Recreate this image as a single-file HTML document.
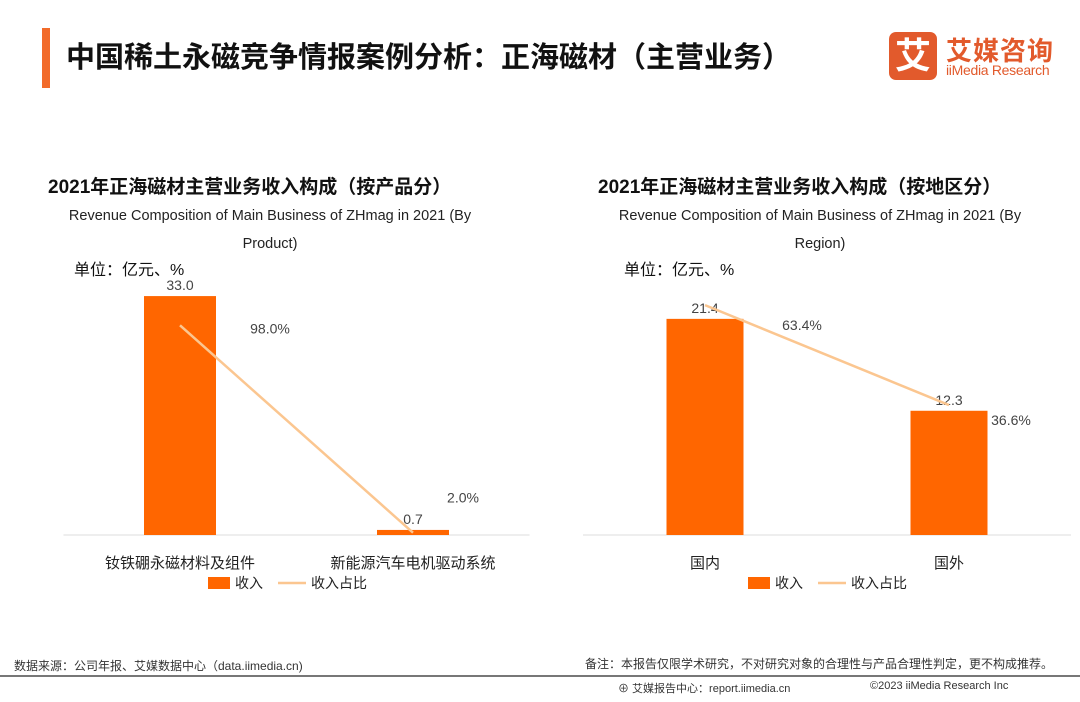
<!DOCTYPE html>
<html><head><meta charset="utf-8"><style>
body{margin:0;width:1080px;height:702px;background:#fff;overflow:hidden;font-family:"Liberation Sans","Noto Sans CJK SC",sans-serif;position:relative}
.a{position:absolute;white-space:nowrap}
</style></head><body>
<div class="a" style="left:42px;top:28px;width:8px;height:60px;background:#f26b2a"></div>
<div class="a" style="left:66px;top:34px;font-size:29px;font-weight:bold;color:#111">中国稀土永磁竞争情报案例分析：正海磁材（主营业务）</div>
<div class="a" style="left:889px;top:32px;width:48px;height:48px;background:#e25a2c;border-radius:7px;color:#fff;font-size:36px;font-weight:bold;text-align:center;line-height:48px">艾</div>
<div class="a" style="left:946px;top:31px;font-size:26px;font-weight:bold;color:#e25a2c;letter-spacing:1px">艾媒咨询</div>
<div class="a" style="left:946px;top:62px;font-size:14px;color:#e25a2c;letter-spacing:-0.3px">iiMedia Research</div>
<svg class="a" style="left:0;top:0" width="1080" height="702">
<g id="c1"></g><g id="c2"></g>
<line x1="0" y1="676" x2="1080" y2="676" stroke="#777" stroke-width="2"/>
</svg>
<div class="a" style="left:48px;top:172px;font-size:19px;font-weight:bold;color:#111">2021年正海磁材主营业务收入构成（按产品分）</div>
<div class="a" style="left:40px;top:202px;width:460px;text-align:center;font-size:14.5px;line-height:28px;color:#222">Revenue Composition of Main Business of ZHmag in 2021 (By<br>Product)</div>
<div class="a" style="left:74px;top:256px;font-size:16px;color:#111">单位：亿元、%</div>
<div class="a" style="left:598px;top:172px;font-size:19px;font-weight:bold;color:#111">2021年正海磁材主营业务收入构成（按地区分）</div>
<div class="a" style="left:590px;top:202px;width:460px;text-align:center;font-size:14.5px;line-height:28px;color:#222">Revenue Composition of Main Business of ZHmag in 2021 (By<br>Region)</div>
<div class="a" style="left:624px;top:256px;font-size:16px;color:#111">单位：亿元、%</div>
<div class="a" style="left:14px;top:657px;font-size:12px;color:#333">数据来源：公司年报、艾媒数据中心（data.iimedia.cn)</div>
<div class="a" style="left:585px;top:655px;font-size:12px;color:#333">备注：本报告仅限学术研究，不对研究对象的合理性与产品合理性判定，更不构成推荐。</div>
<div class="a" style="left:618px;top:680px;font-size:11px;color:#333">⊕ 艾媒报告中心：report.iimedia.cn</div>
<div class="a" style="left:870px;top:680px;font-size:11px;color:#333">©2023  iiMedia Research  Inc</div>
<script>
const cats1=["钕铁硼永磁材料及组件","新能源汽车电机驱动系统"];
const rev1=[33.0,0.7];
const pct1=[98.0,2.0];
const cats2=["国内","国外"];
const rev2=[21.4,12.3];
const pct2=[63.4,36.6];
const NS="http://www.w3.org/2000/svg";
function mk(p,t,a){const e=document.createElementNS(NS,t);for(const k in a)e.setAttribute(k,a[k]);p.appendChild(e);return e;}
function chart(id,cats,rev,pct,o){
  const g=document.getElementById(id);
  const yB=v=>o.base-v*o.k, yP=v=>o.pbase-v*o.pk;
  const cx=i=>o.x0+i*o.step;
  const ax=mk(g,'line',{x1:o.x0-o.step/2,x2:o.x0+1.5*o.step,y1:o.base,y2:o.base,stroke:'#ddd'});
  
  cats.forEach((c,i)=>{
    const r=mk(g,'rect',{x:cx(i)-o.bw/2,y:yB(rev[i]),width:o.bw,height:rev[i]*o.k,fill:'#ff6600'});
    
    const t=mk(g,'text',{x:cx(i),y:yB(rev[i])-6,'text-anchor':'middle','font-size':14,fill:'#444'});t.textContent=rev[i].toFixed(1);
    
    const l=mk(g,'text',{x:cx(i),y:o.base+33,'text-anchor':'middle','font-size':15,fill:'#222'});l.textContent=c;
    
    const p=mk(g,'text',{x:cx(i)+o.pdx[i],y:yP(pct[i])+o.pdy[i],'text-anchor':'middle','font-size':14,fill:'#444'});p.textContent=pct[i].toFixed(1)+'%';
    
  });
  const ln=mk(g,'polyline',{points:pct.map((v,i)=>cx(i)+','+yP(v)).join(' '),fill:'none',stroke:'#fbc690','stroke-width':2.5});
  
  const lx=o.lx,ly=o.base+48;
  const s=mk(g,'rect',{x:lx,y:ly-6,width:22,height:12,fill:'#ff6600'});
  const st=mk(g,'text',{x:lx+27,y:ly+5,'font-size':14,fill:'#222'});st.textContent='收入';
  const sl=mk(g,'line',{x1:lx+70,x2:lx+98,y1:ly,y2:ly,stroke:'#fbc690','stroke-width':2.5});
  const slt=mk(g,'text',{x:lx+103,y:ly+5,'font-size':14,fill:'#222'});slt.textContent='收入占比';
}
chart('c1',cats1,rev1,pct1,{x0:180,step:233,bw:72,base:535,k:7.24,pbase:537,pk:2.16,lx:208,pdx:[90,50],pdy:[8,-30]});
chart('c2',cats2,rev2,pct2,{x0:705,step:244,bw:77,base:535,k:10.1,pbase:541.6,pk:3.73,lx:748,pdx:[97,62],pdy:[25,20]});
</script>
</body></html>
